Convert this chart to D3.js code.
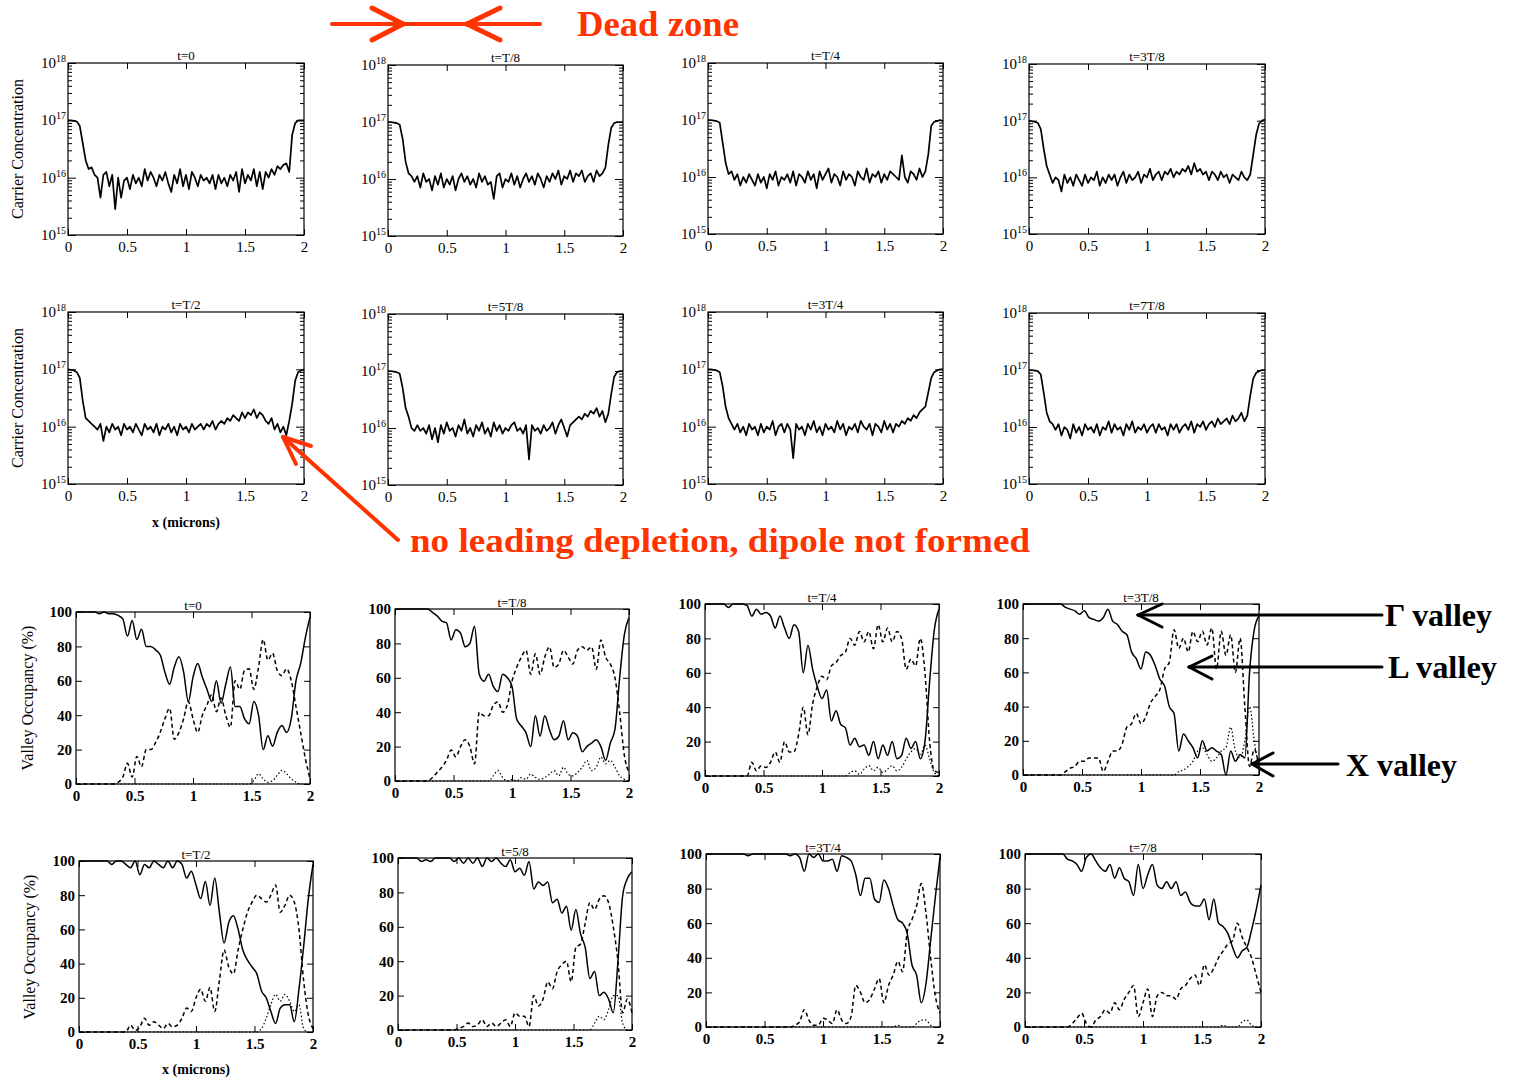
<!DOCTYPE html>
<html><head><meta charset="utf-8">
<script src="https://cdn.jsdelivr.net/npm/d3@7"></script>
<style>
body{margin:0;background:#fff}
svg text{font-family:"Liberation Serif","DejaVu Serif",serif}
</style>
</head><body>
<svg id="c" width="1514" height="1079"></svg>
<script>
// ---------- DATA ----------
const concTitles = ["t=0","t=T/8","t=T/4","t=3T/8","t=T/2","t=5T/8","t=3T/4","t=7T/8"];
const occTitles  = ["t=0","t=T/8","t=T/4","t=3T/8","t=T/2","t=5/8","t=3T/4","t=7/8"];
const concTicks = [1e15,1e16,1e17,1e18];
const concTickExp = ["15","16","17","18"];
const xTicks = [0,0.5,1,1.5,2];
const xTickLabels = ["0","0.5","1","1.5","2"];
const occTicks = [0,20,40,60,80,100];

// carrier concentration, log10(cm^-3), x = 0..2 microns evenly
const conc_t0 = [17.00,17.00,16.99,16.98,16.90,16.60,16.30,16.15,16.18,16.05,
 16.00,15.65,16.05,16.10,15.85,16.05,15.45,16.00,15.65,15.95,
 16.00,15.80,16.05,15.90,16.00,15.85,16.15,15.95,16.10,16.00,
 15.85,16.05,15.95,16.10,15.90,15.75,16.05,15.90,16.15,15.85,
 16.05,15.80,16.10,16.00,15.85,16.05,15.95,16.00,15.90,16.05,
 15.80,16.05,15.90,16.00,15.85,16.05,15.95,16.10,15.75,16.15,
 15.90,16.05,15.95,16.15,15.85,16.10,15.80,16.10,16.00,16.15,
 16.05,16.20,16.15,16.22,16.25,16.10,16.75,16.95,17.00,17.00,17.00];
const conc_T8 = [17.00,17.00,16.99,16.98,16.95,16.70,16.30,16.10,16.05,15.95,
 16.05,15.85,16.10,15.95,16.00,15.80,16.05,15.90,16.10,15.85,
 16.00,15.90,16.05,15.80,16.00,16.10,15.95,16.05,15.90,16.00,
 15.85,16.10,15.95,16.05,15.90,15.95,15.65,16.05,16.10,15.85,
 16.00,15.95,16.10,15.90,16.05,15.85,16.00,16.10,15.95,16.05,
 15.90,16.10,16.00,15.85,16.05,15.95,16.10,16.00,16.15,15.90,
 16.05,16.00,16.15,15.95,16.10,16.05,16.15,15.95,16.05,16.10,
 15.95,16.15,16.05,16.10,16.20,16.60,16.90,16.98,17.00,17.00,17.00];
const conc_T4 = [17.00,17.00,16.99,16.98,16.95,16.60,16.25,16.05,16.10,15.95,
 16.05,15.85,16.00,15.90,16.05,15.95,15.85,16.05,15.90,16.00,
 15.80,16.05,15.95,16.10,15.85,16.00,15.95,16.05,15.90,16.10,
 15.85,16.05,16.00,15.90,16.10,15.95,16.05,15.80,16.10,15.95,
 16.05,16.15,15.90,16.05,16.00,15.85,16.10,15.95,16.05,16.00,
 15.85,16.10,16.00,15.95,16.15,15.90,16.05,16.00,16.10,15.90,
 16.05,15.95,16.10,16.05,16.00,15.95,16.38,16.00,15.90,16.10,
 16.05,15.95,16.15,16.00,16.10,16.40,16.90,16.97,16.98,17.00,16.98];
const conc_3T8 = [17.00,16.99,16.98,16.96,16.85,16.50,16.20,16.05,15.90,16.00,
 15.95,15.75,16.05,15.90,16.00,15.85,16.05,15.95,15.85,16.05,
 15.90,16.00,15.95,16.10,15.85,16.00,15.90,16.05,15.95,16.05,
 15.85,16.00,16.10,15.90,16.05,15.95,16.00,16.10,15.90,16.05,
 16.00,16.15,15.95,16.05,16.10,15.95,16.10,16.05,16.15,16.00,
 16.10,16.05,16.15,16.10,16.20,16.05,16.25,16.10,16.15,16.05,
 16.10,15.95,16.10,16.05,15.95,16.10,16.00,16.05,15.90,16.05,
 16.00,15.95,16.10,16.00,15.95,16.05,16.40,16.75,16.95,17.00,17.02];
const conc_T2 = [17.00,16.99,16.98,16.95,16.85,16.45,16.15,16.10,16.05,16.00,
 15.95,16.05,15.75,16.00,15.90,16.05,15.95,16.00,15.85,16.05,
 15.95,16.00,15.90,16.05,15.95,15.85,16.05,15.95,16.00,15.90,
 16.05,15.85,16.00,15.95,16.05,15.90,16.00,15.85,16.05,15.95,
 16.00,15.90,16.05,15.95,16.00,16.05,15.95,16.05,16.00,16.10,
 15.95,16.05,16.10,16.05,16.15,16.10,16.20,16.15,16.10,16.25,
 16.15,16.25,16.20,16.30,16.15,16.25,16.20,16.10,16.05,16.15,
 15.95,16.05,15.90,16.00,15.85,16.10,16.40,16.80,16.95,16.98,17.00];
const conc_5T8 = [17.00,17.00,16.99,16.98,16.95,16.70,16.35,16.20,16.00,15.95,
 16.05,15.95,16.00,15.90,16.05,15.80,16.00,15.75,16.05,15.90,
 16.10,15.95,16.00,15.85,16.05,15.95,16.15,15.90,16.00,15.85,
 16.05,15.95,16.10,15.90,16.00,15.85,16.10,15.95,16.05,15.90,
 16.00,15.95,16.05,16.10,15.95,16.00,15.90,16.05,15.45,16.05,
 15.95,16.00,15.90,16.05,15.95,16.00,16.10,15.90,16.05,16.15,
 16.00,15.85,16.05,16.10,16.15,16.20,16.15,16.25,16.20,16.30,
 16.25,16.35,16.20,16.30,16.10,16.25,16.60,16.90,16.98,17.00,17.00];
const conc_3T4 = [17.00,17.00,16.99,16.98,16.95,16.70,16.35,16.15,16.05,15.95,
 16.05,15.90,16.00,15.85,16.05,15.95,16.00,15.85,16.05,15.90,
 16.00,15.95,16.10,15.85,16.00,16.05,15.90,16.05,15.95,15.45,
 16.05,15.95,16.00,15.85,16.05,15.95,16.10,15.90,16.00,15.85,
 16.05,15.95,16.00,15.90,16.10,15.95,16.05,15.85,16.00,15.95,
 16.05,15.90,16.10,16.00,15.95,16.05,15.85,16.05,16.00,15.90,
 16.10,15.95,16.05,15.90,16.05,16.00,16.10,16.05,16.15,16.10,
 16.20,16.15,16.25,16.30,16.35,16.60,16.85,16.95,16.98,17.00,17.00];
const conc_7T8 = [17.00,17.00,16.99,16.98,16.92,16.60,16.25,16.10,16.05,15.95,
 16.05,15.85,16.00,15.95,15.80,16.05,15.90,16.00,15.85,16.05,
 15.95,16.00,15.90,16.05,15.85,16.00,15.95,16.10,15.90,16.05,
 15.95,16.00,15.85,16.05,15.95,16.10,15.90,16.00,15.95,16.05,
 15.90,16.00,16.05,15.90,16.05,15.95,16.00,15.85,16.05,15.95,
 16.05,15.90,16.00,16.05,15.95,16.10,15.90,16.05,16.00,16.10,
 15.95,16.05,16.10,16.00,16.15,16.05,16.10,16.15,16.05,16.20,
 16.10,16.15,16.25,16.10,16.20,16.55,16.85,16.95,16.98,17.00,17.00];

// valley occupancy (%), x = 0..2 microns evenly (step 0.04)
const gam_t0 = [100,100,100,100,100,99,100,99,99,98,96,86,95,84,90,80,80,78,75,65,58,68,74,65,48,62,70,62,55,48,60,47,58,68,45,45,38,35,48,40,20,28,22,30,34,30,38,60,70,85,97];
const L_t0   = [0,0,0,0,0,0,0,0,0,1,4,12,4,16,10,20,20,24,30,38,44,26,30,38,48,38,30,40,46,52,42,50,40,33,60,55,66,67,55,68,84,72,76,66,63,67,60,45,30,15,3];
const X_t0   = [0,0,0,0,0,0,0,0,0,0,0,0,0,0,0,0,0,0,0,0,0,0,0,0,0,0,0,0,0,0,0,0,0,0,0,0,0,0,2,6,3,1,2,5,8,6,3,1,0,0,0];
const gam_T8 = [100,100,100,100,100,100,100,100,98,96,93,92,82,88,86,78,80,90,62,58,62,55,52,62,60,55,36,32,28,20,38,26,38,30,24,26,35,24,28,26,17,20,22,24,20,12,22,30,60,85,95];
const L_T8   = [0,0,0,0,0,0,0,0,2,5,8,12,18,14,20,24,20,10,40,38,38,44,46,40,44,58,66,72,76,62,74,62,72,78,66,68,76,72,68,76,78,76,78,65,82,72,68,60,40,15,5];
const X_T8   = [0,0,0,0,0,0,0,0,0,0,0,0,0,0,0,0,0,0,0,0,0,3,6,2,0,1,0,2,1,4,2,1,2,4,6,3,8,4,3,5,8,12,6,8,14,10,12,8,3,1,0];
const gam_T4 = [100,100,100,100,100,98,100,100,100,99,93,97,94,95,93,86,93,86,80,88,84,60,76,62,52,45,50,32,38,30,28,18,22,17,18,12,20,10,18,12,20,10,12,22,16,20,10,20,55,85,97];
const L_T4   = [0,0,0,0,0,0,0,0,0,0,8,3,6,5,8,14,8,20,14,14,24,40,24,42,52,58,56,64,66,70,72,80,76,84,78,84,74,88,78,86,78,84,80,62,68,64,80,60,20,3,2];
const X_T4   = [0,0,0,0,0,0,0,0,0,0,0,0,0,0,0,0,0,0,0,0,0,0,0,0,0,0,0,0,0,0,0,2,3,1,4,6,3,5,2,4,6,3,5,10,14,16,12,18,10,2,0];
const gam_3T8 = [100,100,100,100,100,100,100,100,100,98,97,96,94,96,92,91,90,92,97,90,88,84,82,72,68,62,72,70,64,56,52,40,36,14,24,20,16,10,20,14,16,14,12,0,14,8,12,10,60,85,93];
const L_3T8   = [0,0,0,0,0,0,0,0,0,2,4,5,8,8,10,10,10,2,8,14,14,18,28,30,36,30,34,42,46,50,62,66,85,74,80,72,84,78,84,76,86,62,84,70,82,60,80,40,5,15,5];
const X_3T8   = [0,0,0,0,0,0,0,0,0,0,0,0,0,0,0,0,0,0,0,0,0,0,0,0,0,0,0,0,0,0,0,0,0,2,3,5,8,14,16,12,8,10,14,16,28,14,10,20,40,20,3];
const gam_T2 = [100,100,100,100,100,100,100,98,100,100,98,96,100,92,98,96,100,98,96,100,96,100,98,90,94,86,78,88,74,90,70,52,64,68,60,48,42,38,34,24,20,12,5,14,16,16,6,25,50,78,98];
const L_T2   = [0,0,0,0,0,0,0,0,0,0,0,4,1,3,8,4,6,4,2,5,3,4,8,14,12,20,25,18,26,12,30,48,38,34,48,60,70,76,80,78,76,80,86,70,74,80,76,60,30,10,2];
const X_T2   = [0,0,0,0,0,0,0,0,0,0,0,0,0,0,0,0,0,0,0,0,0,0,0,0,0,0,0,0,0,0,0,0,0,0,0,0,0,0,0,2,8,16,22,18,22,18,12,16,2,0,0];
const gam_5T8 = [100,100,100,100,100,98,99,98,100,100,100,100,98,100,97,100,97,100,95,100,98,100,97,95,99,92,94,90,98,82,86,84,86,74,76,68,72,58,70,56,48,30,34,20,22,18,10,40,78,88,92];
const L_5T8   = [0,0,0,0,0,0,0,0,0,0,0,0,0,1,2,4,2,3,6,2,4,2,4,6,2,10,8,8,2,20,14,18,28,24,34,38,40,28,48,50,62,74,70,76,78,74,60,40,10,18,10];
const X_5T8   = [0,0,0,0,0,0,0,0,0,0,0,0,0,0,0,0,0,0,0,0,0,0,0,0,0,0,0,0,0,0,0,0,0,0,0,0,0,0,0,0,0,0,4,8,6,12,20,20,4,0,0];
const gam_3T4 = [100,100,100,100,100,100,100,100,100,99,100,100,100,100,100,100,100,100,99,100,98,90,100,98,100,96,96,97,90,99,98,96,88,76,86,86,74,72,85,80,70,62,60,54,36,30,14,25,50,75,98];
const L_3T4   = [0,0,0,0,0,0,0,0,0,0,0,0,0,0,0,0,0,0,0,1,3,10,4,1,1,5,4,2,10,4,2,6,24,20,14,16,22,28,14,24,30,38,32,55,62,70,83,66,40,18,8];
const X_3T4   = [0,0,0,0,0,0,0,0,0,0,0,0,0,0,0,0,0,0,0,0,0,0,0,0,0,0,0,0,0,0,0,0,0,0,0,0,0,0,0,0,0,1,0,0,0,2,4,4,1,0,0];
const gam_7T8 = [100,100,100,100,100,100,100,100,100,97,96,94,90,98,100,96,92,90,94,86,92,86,84,76,94,80,88,94,82,80,84,80,84,76,78,72,70,70,74,62,74,60,58,54,46,40,44,46,56,68,82];
const L_7T8   = [0,0,0,0,0,0,0,0,0,0,2,5,8,2,0,4,6,10,8,14,10,16,20,24,6,14,22,6,18,20,18,18,16,22,24,28,30,24,36,30,34,40,44,48,50,60,52,46,40,30,20];
const X_7T8   = [0,0,0,0,0,0,0,0,0,0,0,0,0,0,0,0,0,0,0,0,0,0,0,0,0,0,0,0,0,0,0,0,0,0,0,0,0,0,0,0,0,0,1,0,0,0,3,4,1,0,0];

const concSeries = [conc_t0,conc_T8,conc_T4,conc_3T8,conc_T2,conc_5T8,conc_3T4,conc_7T8];
const occSeries = [
  [gam_t0,L_t0,X_t0],[gam_T8,L_T8,X_T8],[gam_T4,L_T4,X_T4],[gam_3T8,L_3T8,X_3T8],
  [gam_T2,L_T2,X_T2],[gam_5T8,L_5T8,X_5T8],[gam_3T4,L_3T4,X_3T4],[gam_7T8,L_7T8,X_7T8]];

// ---------- LAYOUT ----------
const concLayout = [
 {x:68,y:63,w:236,h:172},{x:388,y:65,w:235,h:171},{x:708,y:63,w:235,h:171},{x:1029,y:64,w:236,h:170},
 {x:68,y:312,w:236,h:172},{x:388,y:314,w:235,h:171},{x:708,y:312,w:235,h:172},{x:1029,y:313,w:236,h:171}];
const occLayout = [
 {x:76,y:612,w:234,h:172},{x:395,y:609,w:234,h:172},{x:705,y:604,w:234,h:172},{x:1023,y:604,w:236,h:171},
 {x:79,y:861,w:234,h:171},{x:398,y:858,w:234,h:172},{x:706,y:854,w:234,h:173},{x:1025,y:854,w:236,h:173}];

const svg = d3.select("#c");
const RED = "#ff3300";
const FONT = '"Liberation Serif","DejaVu Serif",serif';

function styleAxis(g, fs, bold){
  g.select(".domain").remove();
  g.selectAll("line").attr("stroke","#000").attr("stroke-width",1);
  g.selectAll("text").attr("font-family",FONT).attr("font-size",fs).attr("fill","#000")
    .attr("font-weight", bold ? "bold" : "normal");
}

function drawConc(i){
  const L = concLayout[i];
  const g = svg.append("g");
  const x = d3.scaleLinear().domain([0,2]).range([L.x, L.x+L.w]);
  const y = d3.scaleLog().domain([1e15,1e18]).range([L.y+L.h, L.y]);
  const minor = [];
  for (let d=15; d<18; d++) for (let k=2;k<=9;k++) minor.push(k*Math.pow(10,d));
  g.append("g").attr("transform",`translate(0,${L.y+L.h})`)
    .call(d3.axisBottom(x).tickValues(xTicks).tickFormat((d,j)=>xTickLabels[j]).tickSizeInner(-6).tickSizeOuter(0).tickPadding(6))
    .call(a=>styleAxis(a,15,false));
  g.append("g").attr("transform",`translate(0,${L.y})`)
    .call(d3.axisTop(x).tickValues(xTicks).tickFormat("").tickSizeInner(-6).tickSizeOuter(0))
    .call(a=>styleAxis(a,15,false));
  [["L",L.x],["R",L.x+L.w]].forEach(([side,px])=>{
    const mk = side==="L" ? d3.axisLeft : d3.axisRight;
    g.append("g").attr("transform",`translate(${px},0)`)
      .call(mk(y).tickValues(concTicks).tickFormat("").tickSizeInner(-8).tickSizeOuter(0))
      .call(a=>styleAxis(a,14,false));
    g.append("g").attr("transform",`translate(${px},0)`)
      .call(mk(y).tickValues(minor).tickFormat("").tickSizeInner(-4).tickSizeOuter(0))
      .call(a=>styleAxis(a,14,false));
  });
  concTicks.forEach((t,j)=>{
    const tx = g.append("text").attr("x",L.x-2).attr("y",y(t)+5).attr("text-anchor","end")
      .attr("font-size",15).attr("fill","#000");
    tx.append("tspan").text("10");
    tx.append("tspan").attr("dy",-6).attr("font-size",10).text(concTickExp[j]);
  });
  g.append("rect").attr("x",L.x).attr("y",L.y).attr("width",L.w).attr("height",L.h)
    .attr("fill","none").attr("stroke","#000").attr("stroke-width",1.2);
  const data = concSeries[i];
  const n = data.length;
  const line = d3.line().x((v,j)=>x(j*2/(n-1))).y(v=>y(Math.pow(10,v)));
  g.append("path").attr("d",line(data)).attr("fill","none").attr("stroke","#000")
    .attr("stroke-width",1.7).attr("stroke-linejoin","round");
  g.append("text").attr("x",L.x+L.w/2).attr("y",L.y-3).attr("text-anchor","middle")
    .attr("font-size",13).text(concTitles[i]);
}

function drawOcc(i){
  const L = occLayout[i];
  const g = svg.append("g");
  const x = d3.scaleLinear().domain([0,2]).range([L.x, L.x+L.w]);
  const y = d3.scaleLinear().domain([0,100]).range([L.y+L.h, L.y]);
  g.append("g").attr("transform",`translate(0,${L.y+L.h})`)
    .call(d3.axisBottom(x).tickValues(xTicks).tickFormat((d,j)=>xTickLabels[j]).tickSizeInner(-6).tickSizeOuter(0).tickPadding(6))
    .call(a=>styleAxis(a,15,true));
  g.append("g").attr("transform",`translate(0,${L.y})`)
    .call(d3.axisTop(x).tickValues(xTicks).tickFormat("").tickSizeInner(-6).tickSizeOuter(0))
    .call(a=>styleAxis(a,15,true));
  g.append("g").attr("transform",`translate(${L.x},0)`)
    .call(d3.axisLeft(y).tickValues(occTicks).tickSizeInner(-6).tickSizeOuter(0).tickPadding(4))
    .call(a=>styleAxis(a,15,true));
  g.append("g").attr("transform",`translate(${L.x+L.w},0)`)
    .call(d3.axisRight(y).tickValues(occTicks).tickFormat("").tickSizeInner(-6).tickSizeOuter(0))
    .call(a=>styleAxis(a,15,true));
  g.append("rect").attr("x",L.x).attr("y",L.y).attr("width",L.w).attr("height",L.h)
    .attr("fill","none").attr("stroke","#000").attr("stroke-width",1.2);
  const styles = [
    {dash:null, w:1.5},
    {dash:"4,3", w:1.5},
    {dash:"1.5,2.2", w:1.2}];
  occSeries[i].forEach((s,k)=>{
    const n = s.length;
    const line = d3.line().x((v,j)=>x(j*2/(n-1))).y(v=>y(v)).curve(d3.curveMonotoneX);
    g.append("path").attr("d",line(s)).attr("fill","none").attr("stroke","#000")
      .attr("stroke-width",styles[k].w).attr("stroke-dasharray",styles[k].dash)
      .attr("stroke-linejoin","round");
  });
  g.append("text").attr("x",L.x+L.w/2).attr("y",L.y-2).attr("text-anchor","middle")
    .attr("font-size",13).text(occTitles[i]);
}

for (let i=0;i<8;i++){ drawConc(i); drawOcc(i); }

function vlabel(x,y,t){
  svg.append("text").attr("transform",`translate(${x},${y}) rotate(-90)`).attr("text-anchor","middle")
    .attr("font-size",16).text(t);
}
vlabel(23,149,"Carrier Concentration");
vlabel(23,398,"Carrier Concentration");
vlabel(33,698,"Valley Occupancy (%)");
vlabel(35,947,"Valley Occupancy (%)");
svg.append("text").attr("x",186).attr("y",527).attr("text-anchor","middle").attr("font-size",14).attr("font-weight","bold").text("x (microns)");
svg.append("text").attr("x",196).attr("y",1074).attr("text-anchor","middle").attr("font-size",14).attr("font-weight","bold").text("x (microns)");

// ---------- ANNOTATIONS ----------
function seg(x1,y1,x2,y2,col,w){
  svg.append("line").attr("x1",x1).attr("y1",y1).attr("x2",x2).attr("y2",y2)
    .attr("stroke",col).attr("stroke-width",w).attr("stroke-linecap","round");
}
seg(332,24,540,24,RED,4);
seg(372,8,403,24,RED,5); seg(372,40,403,24,RED,5);
seg(500,8,467,24,RED,5); seg(500,40,467,24,RED,5);
svg.append("text").attr("x",577).attr("y",36).attr("font-size",35).attr("font-weight","bold")
  .attr("fill",RED).attr("textLength",162).attr("lengthAdjust","spacingAndGlyphs").text("Dead zone");
seg(398,540,283,437,RED,4);
seg(283,437,311,446,RED,4); seg(283,437,296,464,RED,4);
svg.append("text").attr("x",410).attr("y",552).attr("font-size",34).attr("font-weight","bold")
  .attr("fill",RED).attr("textLength",620).attr("lengthAdjust","spacingAndGlyphs").text("no leading depletion, dipole not formed");
seg(1138,615,1382,615,"#000",3);
seg(1138,615,1162,604,"#000",3); seg(1138,615,1162,627,"#000",3);
svg.append("text").attr("x",1385).attr("y",626).attr("font-size",32).attr("font-weight","bold")
  .attr("textLength",107).attr("lengthAdjust","spacingAndGlyphs").text("Γ valley");
seg(1189,667,1382,667,"#000",3);
seg(1189,667,1212,656,"#000",3); seg(1189,667,1212,679,"#000",3);
svg.append("text").attr("x",1388).attr("y",678).attr("font-size",32).attr("font-weight","bold")
  .attr("textLength",109).attr("lengthAdjust","spacingAndGlyphs").text("L valley");
seg(1252,764,1338,764,"#000",3);
seg(1252,764,1273,753,"#000",3); seg(1252,764,1273,776,"#000",3);
svg.append("text").attr("x",1346).attr("y",776).attr("font-size",32).attr("font-weight","bold")
  .attr("textLength",111).attr("lengthAdjust","spacingAndGlyphs").text("X valley");
</script>
</body></html>
